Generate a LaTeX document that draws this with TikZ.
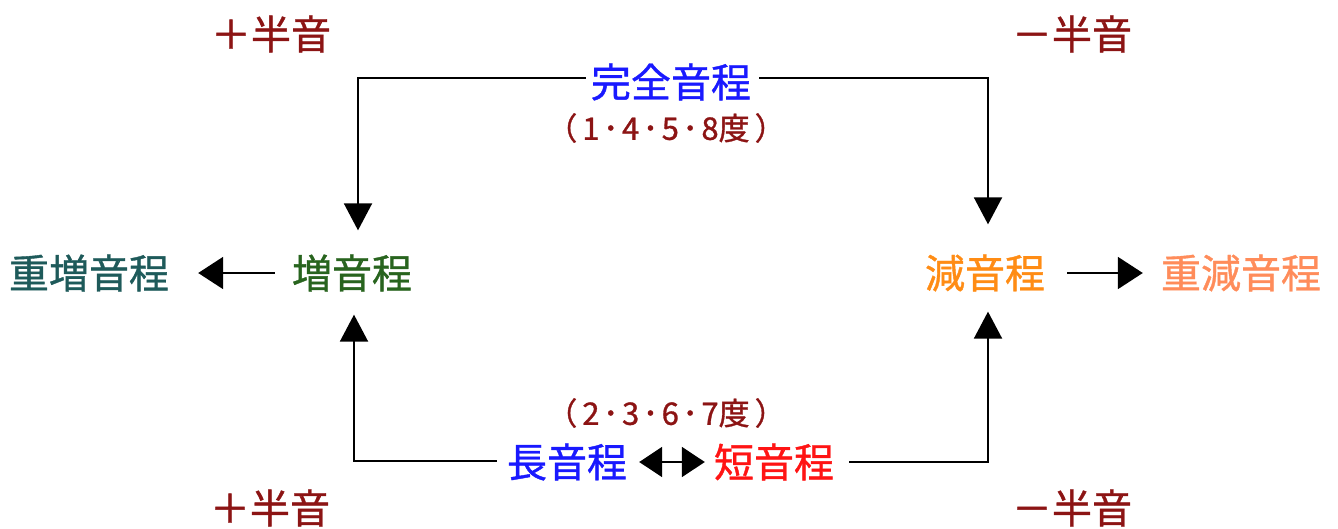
\documentclass[tikz,border=0pt]{standalone}
\usepackage{fontspec}
\setmainfont{Noto Sans CJK JP}[RawFeature={embolden=1}]
\usetikzlibrary{arrows.meta}
\definecolor{dred}{RGB}{140,20,20}
\definecolor{cblue}{RGB}{25,25,255}
\definecolor{cteal}{RGB}{30,90,90}
\definecolor{cgreen}{RGB}{40,100,30}
\definecolor{corange}{RGB}{255,140,20}
\definecolor{csalmon}{RGB}{255,140,90}
\definecolor{cred}{RGB}{255,20,20}
\newcommand{\mdt}{\hspace{3.5pt}･\hspace{3.5pt}}
\newcommand{\lpar}{（\hspace{5pt}}
\newcommand{\rpar}{\hspace{5pt}）}
\begin{document}
\begin{tikzpicture}[x=1pt,y=-1pt,
  lbl/.style={inner sep=0pt, font=\fontsize{40}{44}\selectfont},
  deg/.style={inner sep=0pt, font=\fontsize{31}{34}\selectfont, text=dred},
  conn/.style={line width=2pt, draw=black},
  vtip/.style={-{Triangle[length=27pt,width=28pt]}},
  htip/.style={-{Triangle[length=25pt,width=32pt]}},
  dtip/.style={{Triangle[length=23pt,width=30pt]}-{Triangle[length=23pt,width=30pt]}}
]
\useasboundingbox (0,0) rectangle (1338,528);
\node[lbl,text=dred] (pl1) at (271,34) {＋半音};
\node[lbl,text=dred] (mi1) at (1072,34) {－半音};
\node[lbl,text=cblue] (kanzen) at (671,82) {完全音程};
\node[deg] (deg1) at (666,128) {\lpar 1\mdt 4\mdt 5\mdt 8度\rpar};
\node[lbl,text=cteal] (juzou) at (89,273) {重増音程};
\node[lbl,text=cgreen] (zou) at (352,273) {増音程};
\node[lbl,text=corange] (gen) at (985,273) {減音程};
\node[lbl,text=csalmon] (jugen) at (1241,273) {重減音程};
\node[deg] (deg2) at (666,413) {\lpar 2\mdt 3\mdt 6\mdt 7度\rpar};
\node[lbl,text=cblue] (chou) at (567,462) {長音程};
\node[lbl,text=cred] (tan) at (774,462) {短音程};
\node[lbl,text=dred] (pl2) at (270,508) {＋半音};
\node[lbl,text=dred] (mi2) at (1072,508) {－半音};
\draw[conn,vtip,shorten <=5pt,shorten >=24pt] ([yshift=4pt]kanzen.west) -| ([xshift=6pt]zou.north);
\draw[conn,vtip,shorten <=8pt,shorten >=30pt] ([yshift=4pt]kanzen.east) -| ([xshift=3pt]gen.north);
\draw[conn,vtip,shorten <=10pt,shorten >=23pt] ([yshift=1pt]chou.west) -| ([xshift=2pt]zou.south);
\draw[conn,vtip,shorten <=15pt,shorten >=20pt] (tan.east) -| ([xshift=3pt]gen.south);
\draw[conn,htip,shorten <=17pt,shorten >=29pt] (zou.west) -- (juzou.east);
\draw[conn,htip,shorten <=22pt,shorten >=18pt] (gen.east) -- (jugen.west);
\draw[conn,dtip,shorten <=12pt,shorten >=9pt] (chou.east) -- (tan.west);
\end{tikzpicture}
\end{document}
